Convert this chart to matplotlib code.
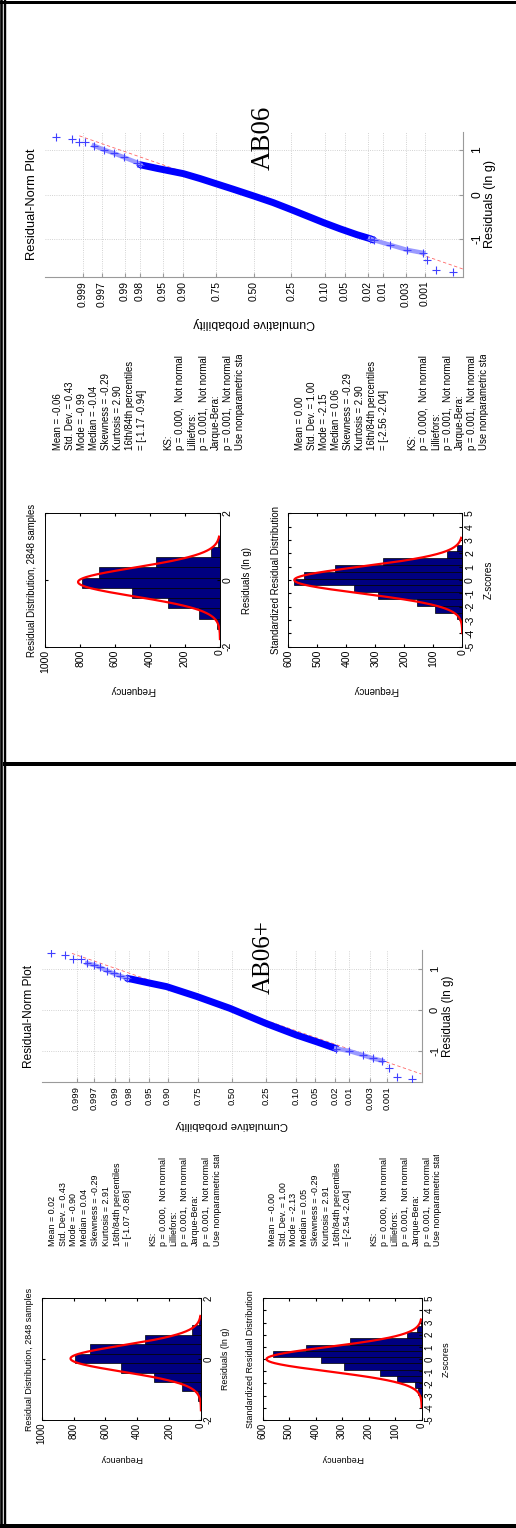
import numpy as np
import matplotlib
matplotlib.use("Agg")
import matplotlib.pyplot as plt
from matplotlib.lines import Line2D
from matplotlib.transforms import Bbox, TransformedBbox
from statistics import NormalDist

W, H = 516, 1528
plt.rcParams['font.family'] = ['Liberation Sans', 'DejaVu Sans']

n_samples = 2848
prob_ticks = [0.999, 0.997, 0.99, 0.98, 0.95, 0.90, 0.75, 0.50, 0.25, 0.10, 0.05, 0.02, 0.01, 0.003, 0.001]
prob_labels = ['0.999', '0.997', '0.99', '0.98', '0.95', '0.90', '0.75', '0.50',
               '0.25', '0.10', '0.05', '0.02', '0.01', '0.003', '0.001']
freq_ticks = [0, 200, 400, 600, 800, 1000]
zfreq_ticks = [0, 100, 200, 300, 400, 500, 600]
tests_text = ("KS:\np = 0.000,  Not normal\nLilliefors:\np = 0.001,  Not normal\n"
              "Jarque-Bera:\np = 0.001,  Not normal\nUse nonparametric stats")

# ---- AB06 ----
ab06_qq_z = [3.58, 3.28, 3.15, 3.05, 2.89, 2.71, 2.53, 2.35, 2.11, 2.05, 1.75, 1.27, 0.97,
             0.67, 0.37, -0.02, -0.35, -0.66, -0.96, -1.26, -1.56, -1.86, -2.10, -2.16,
             -2.46, -2.76, -3.06, -3.13, -3.29, -3.59]
ab06_qq_r = [1.30, 1.26, 1.19, 1.19, 1.10, 1.01, 0.93, 0.84, 0.72, 0.67, 0.59, 0.47, 0.36,
             0.24, 0.12, -0.04, -0.18, -0.33, -0.48, -0.63, -0.77, -0.90, -0.99, -1.02,
             -1.13, -1.24, -1.31, -1.46, -1.70, -1.74]
ab06_ref_z = [3.15, -3.77]
ab06_ref_r = [1.32, -1.67]
ab06_res_range = [-1.77, 1.30]
ab06_res_counts = [5, 16, 122, 295, 501, 787, 691, 368, 53, 10]
ab06_z_counts = [2, 3, 18, 93, 157, 291, 373, 580, 545, 439, 274, 53, 18, 2]
ab06_mean, ab06_std = -0.06, 0.43
ab06_stats = ("Mean = -0.06\nStd. Dev. = 0.43\nMode = -0.99\nMedian = -0.04\n"
              "Skewness = -0.29\nKurtosis = 2.90\n16th/84th percentiles\n= [-1.17 -0.94]")
ab06_zstats = ("Mean = 0.00\nStd. Dev. = 1.00\nMode = -2.15\nMedian = 0.06\n"
               "Skewness = -0.29\nKurtosis = 2.90\n16th/84th percentiles\n= [-2.56 -2.04]")

# ---- AB06+ ----
ab06p_qq_z = [3.59, 3.31, 3.16, 3.01, 2.88, 2.75, 2.62, 2.49, 2.35, 2.22, 2.08, 1.99, 1.69,
              1.30, 0.70, 0.04, -0.68, -1.28, -1.67, -2.07, -2.33, -2.60, -2.80, -2.99,
              -3.13, -3.27, -3.57]
ab06p_qq_r = [1.38, 1.34, 1.24, 1.24, 1.14, 1.10, 1.04, 0.96, 0.89, 0.83, 0.77, 0.75, 0.67,
              0.57, 0.33, 0.04, -0.33, -0.61, -0.77, -0.94, -1.00, -1.10, -1.18, -1.24,
              -1.42, -1.63, -1.69]
ab06p_ref_z = [3.18, -3.76]
ab06p_ref_r = [1.38, -1.56]
ab06p_res_range = [-1.68, 1.42]
ab06p_res_counts = [6, 19, 122, 292, 503, 790, 695, 352, 57, 12]
ab06p_z_counts = [1, 4, 15, 25, 94, 157, 293, 381, 560, 436, 270, 57, 19, 4]
ab06p_mean, ab06p_std = 0.02, 0.43
ab06p_stats = ("Mean = 0.02\nStd. Dev. = 0.43\nMode = -0.90\nMedian = 0.04\n"
               "Skewness = -0.29\nKurtosis = 2.91\n16th/84th percentiles\n= [-1.07 -0.86]")
ab06p_zstats = ("Mean = -0.00\nStd. Dev. = 1.00\nMode = -2.13\nMedian = 0.05\n"
                "Skewness = -0.29\nKurtosis = 2.91\n16th/84th percentiles\n= [-2.54 -2.04]")

fig = plt.figure(figsize=(W / 100, H / 100), dpi=100)


def fx(x):
    return x / W


def fy(y):
    return 1 - y / H


def add_ax(x0, y0, x1, y1):
    return fig.add_axes([x0 / W, 1 - y1 / H, (x1 - x0) / W, (y1 - y0) / H])


def label(x, y, s, size, rot=90, **kw):
    return fig.text(fx(x), fy(y), s, rotation=rot, ha='center', va='center', fontsize=size, **kw)


def qq_plot(box, ylim, qz, qr, rz, rr, s):
    ax = add_ax(*box)
    ax.set_xlim(3.77, -3.77)
    ax.set_ylim(*ylim)
    ax.set_xticks([NormalDist().inv_cdf(p) for p in prob_ticks])
    ax.set_xticklabels(prob_labels, rotation=90, fontsize=6.8 * s)
    ax.yaxis.tick_right()
    ax.set_yticks([-1, 0, 1])
    ax.set_yticklabels(['-1', '0', '1'], rotation=90, va='center', fontsize=8 * s)
    ax.grid(True, color='#c4c4c4', linestyle=':', linewidth=0.6)
    for side in ['top', 'left']:
        ax.spines[side].set_visible(False)
    for side in ['right', 'bottom']:
        ax.spines[side].set_color('#9a9a9a')
    ax.tick_params(direction='in', length=3, color='#9a9a9a')
    ax.tick_params(axis='y', pad=6)
    ax.tick_params(axis='x', pad=3)
    z = np.array(qz)
    r = np.array(qr)
    ax.plot(rz, rr, color='red', lw=0.6, ls=(0, (4, 3)), alpha=0.6, zorder=2)
    core = (z <= 2.08) & (z >= -2.2)
    ax.plot(z[core], r[core], color='blue', lw=5, solid_capstyle='round', zorder=3)
    # sparse tails: hatched band of crosses, lone points at the extremes
    for tail in ((z >= 2.0) & (z <= 3.0), (z <= -2.0) & (z >= -3.1)):
        ax.plot(z[tail], r[tail], color='#9a9aff', lw=3.2, zorder=3)
    tails = np.abs(z) >= 2.0
    ax.plot(z[tails], r[tails], '+', color='#4040ff', ms=5.5, mew=0.8, zorder=4)
    return ax


def hist_plot(box, counts, lo, hi, mean, std, xmax, xticks, ylim, yticks, s):
    ax = add_ax(*box)
    edges = np.linspace(lo, hi, len(counts) + 1)
    bw = edges[1] - edges[0]
    ax.barh(edges[:-1], counts, height=bw, align='edge', color='#000080',
            edgecolor='black', linewidth=0.5)
    ys = np.linspace(lo, hi, 300)
    fit = n_samples * bw * np.exp(-0.5 * ((ys - mean) / std) ** 2) / (std * np.sqrt(2 * np.pi))
    ax.plot(fit, ys, color='red', lw=1.6)
    ax.set_xlim(xmax, 0)
    ax.set_ylim(*ylim)
    ax.set_xticks(xticks)
    ax.set_xticklabels([str(t) for t in xticks], rotation=90, fontsize=7 * s)
    ax.set_yticks(yticks)
    ax.set_yticklabels([str(t) for t in yticks], rotation=90, va='center', fontsize=7 * s)
    ax.tick_params(direction='in', length=2.5, top=True, right=True, left=True,
                   labelleft=False, labelright=True, pad=2)
    for sp in ax.spines.values():
        sp.set_linewidth(0.7)
    return ax


def stats_block(x, y, text, size, clip_y=None):
    t = fig.text(fx(x), fy(y), text, rotation=90, ha='left', va='bottom', fontsize=size,
                 linespacing=1.25, multialignment='left')
    if clip_y is not None:
        bb = TransformedBbox(Bbox.from_extents(0, 0, 1, fy(clip_y)), fig.transFigure)
        t.set_clip_box(bb)
        t.set_clip_on(True)


def panel(L, qz, qr, rz, rr, rng, rc, zc, mean, std, stats, zstats, name, s):
    qq_plot(L['qq'], L['qq_ylim'], qz, qr, rz, rr, s)
    label(L['qq_title'][0], L['qq_title'][1], 'Residual-Norm Plot', 8.6 * s)
    label(L['cum'][0], L['cum'][1], 'Cumulative probability', 8.2 * s, rot=180)
    label(L['qq_xl'][0], L['qq_xl'][1], 'Residuals (ln g)', 8.4 * s)
    label(L['name'][0], L['name'][1], name, 18 * s, family='Liberation Serif')

    hist_plot(L['hist'], rc, rng[0], rng[1], mean, std, 1000, freq_ticks,
              (-2, 2), [-2, 0, 2], s)
    zlo = (rng[0] - mean) / std
    zhi = (rng[1] - mean) / std
    hist_plot(L['zhist'], zc, zlo, zhi, 0, 1, 600, zfreq_ticks,
              (-5, 5), list(range(-5, 6)), s)
    hx = (L['hist'][0] + L['hist'][2]) / 2
    zx = (L['zhist'][0] + L['zhist'][2]) / 2
    hy = (L['hist'][1] + L['hist'][3]) / 2
    label(L['h_title'], hy, 'Residual Distribution, %d samples' % n_samples, 6.4 * s)
    label(L['z_title'], hy, 'Standardized Residual Distribution', 6.4 * s)
    label(hx, L['freq_y'], 'Frequency', 6.4 * s, rot=180)
    label(zx, L['freq_y'], 'Frequency', 6.4 * s, rot=180)
    label(L['h_xl'], hy, 'Residuals (ln g)', 6.4 * s)
    label(L['z_xl'], hy, 'Z-scores', 6.6 * s)

    fs = 6.4 * s
    stats_block(L['st1'][0], L['st1'][1], stats, fs)
    stats_block(L['ks1'][0], L['ks1'][1], tests_text, fs, L['ks1'][2])
    stats_block(L['st2'][0], L['st2'][1], zstats, fs)
    stats_block(L['ks2'][0], L['ks2'][1], tests_text, fs, L['ks2'][2])


ab06_layout = dict(
    qq=(45, 131.7, 462.7, 276.7), qq_ylim=(-1.844, 1.413),
    qq_title=(32, 204), cum=(254, 323), qq_xl=(490, 204), name=(263, 138),
    hist=(45, 513.3, 220, 646.7), zhist=(288.3, 513.3, 462.3, 646.7),
    h_title=32.3, z_title=275.7, freq_y=690, h_xl=247, z_xl=489,
    st1=(53, 450), ks1=(163, 450, 355), st2=(295, 450), ks2=(407, 450, 355),
)
ab06p_layout = dict(
    qq=(42.3, 950, 421.7, 1082.3), qq_ylim=(-1.763, 1.463),
    qq_title=(29, 1016), cum=(232, 1125), qq_xl=(448, 1016), name=(264, 957),
    hist=(41.7, 1298.3, 201, 1420), zhist=(262.5, 1298.3, 421.7, 1420),
    h_title=30, z_title=250.7, freq_y=1458, h_xl=226, z_xl=446.7,
    st1=(48, 1246), ks1=(148, 1246, 1155), st2=(268, 1246), ks2=(369, 1246, 1155),
)

panel(ab06_layout, ab06_qq_z, ab06_qq_r, ab06_ref_z, ab06_ref_r, ab06_res_range,
      ab06_res_counts, ab06_z_counts, ab06_mean, ab06_std, ab06_stats, ab06_zstats, 'AB06', 1.08)
panel(ab06p_layout, ab06p_qq_z, ab06p_qq_r, ab06p_ref_z, ab06p_ref_r, ab06p_res_range,
      ab06p_res_counts, ab06p_z_counts, ab06p_mean, ab06p_std, ab06p_stats, ab06p_zstats,
      'AB06+', 1.0)

# page frame: top rule, double left rule, separator and bottom rule
for x0, y0, x1, y1, w in [(0, 1.5, W, 1.5, 3), (1.3, 0, 1.3, H, 2.6), (5, 0, 5, H, 2.4),
                          (5, 764.5, W, 764.5, 4), (0, 1526, W, 1526, 4)]:
    fig.add_artist(Line2D([fx(x0), fx(x1)], [fy(y0), fy(y1)], color='black', lw=w * 0.72))

fig.savefig('out.png', dpi=100)
